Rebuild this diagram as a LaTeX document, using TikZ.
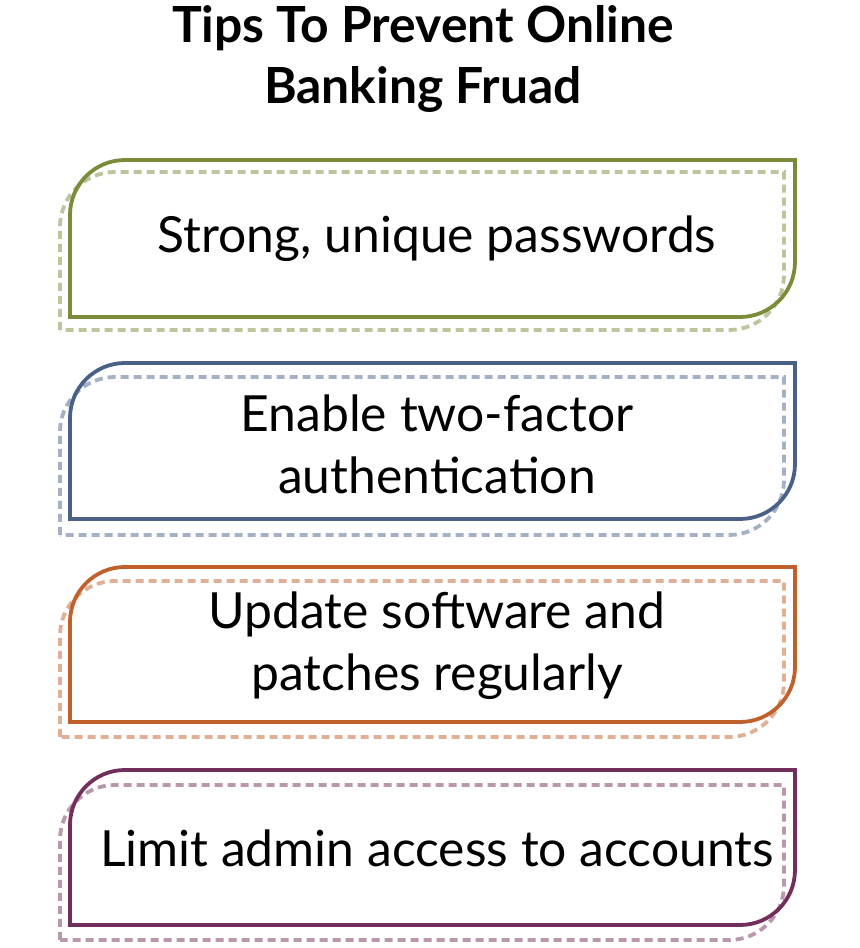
\documentclass[tikz,border=0pt]{standalone}
\usepackage{fontspec}
\setmainfont{Lato}
\usetikzlibrary{positioning}

\definecolor{tipgreen}{HTML}{7A8B3A}
\definecolor{tipblue}{HTML}{4A6187}
\definecolor{tiporange}{HTML}{C0612B}
\definecolor{tippurple}{HTML}{722F5C}

% box with rounded top-left and bottom-right corners
\newcommand{\tipshape}[5]{%
  \draw[#5] (#1,#2) -- (#1,#4-55) arc (180:90:55) -- (#3,#4)
    -- (#3,#2+55) arc (0:-90:55) -- cycle;}

\tikzset{
  solidline/.style={line width=3.8bp, #1},
  dashline/.style={line width=3.8bp, dashed, dash pattern=on 8bp off 5bp, #1!50},
  tiptext/.style={align=center, font=\fontsize{50}{62}\selectfont},
}

\begin{document}
\begin{tikzpicture}[x=1bp, y=1bp]
  \useasboundingbox (0,0) rectangle (860,948);

  \node[font=\bfseries\fontsize{50}{62}\selectfont, align=center] (title) at (423,889)
    {Tips To Prevent Online\\Banking Fruad};

  \tipshape{60}{618}{784}{776}{dashline=tipgreen}
  \tipshape{70}{631}{795}{788}{solidline=tipgreen}
  \node[tiptext] (pass) at (437,709) {Strong, unique passwords};

  \tipshape{60}{413}{784}{571}{dashline=tipblue}
  \tipshape{70}{429}{795}{585}{solidline=tipblue}
  \node[tiptext] (auth) at (437,504) {Enable two-factor\\authentication};

  \tipshape{60}{211}{784}{367}{dashline=tiporange}
  \tipshape{70}{226}{795}{381}{solidline=tiporange}
  \node[tiptext] (patch) at (437,302) {Update software and\\patches regularly};

  \tipshape{60}{8}{784}{163}{dashline=tippurple}
  \tipshape{70}{23}{795}{178}{solidline=tippurple}
  \node[tiptext] (admin) at (437,100) {Limit admin access to accounts};
\end{tikzpicture}
\end{document}
